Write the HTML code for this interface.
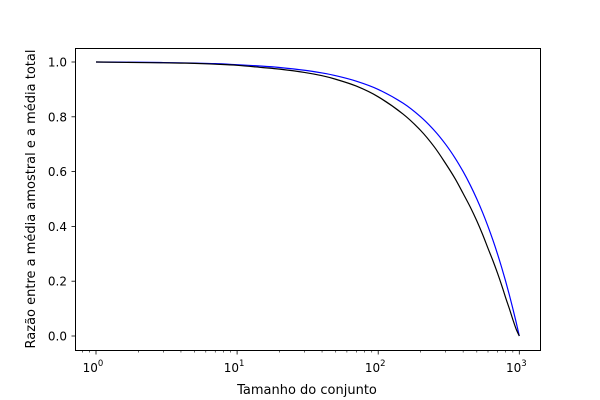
<!DOCTYPE html>
<html><head><meta charset="utf-8"><style>
html,body{margin:0;padding:0;background:#fff}
svg{display:block;font-family:"DejaVu Sans","Liberation Sans",sans-serif}
</style></head><body>
<svg id="chart" width="600" height="400" xmlns="http://www.w3.org/2000/svg">
<rect x="0" y="0" width="600" height="400" fill="#fff"/>
<g id="plot"></g>
<rect x="75.5" y="48.5" width="465" height="302" fill="none" stroke="#000" stroke-width="1"/>
<text x="307" y="394" font-size="13" text-anchor="middle">Tamanho do conjunto</text>
<text transform="translate(35,199) rotate(-90)" font-size="13" text-anchor="middle">Razão entre a média amostral e a média total</text>
</svg>
<script>
const sizes = [1,2,3,4,5,7,10,15,20,30,40,50,70,100,150,200,250,300,350,400,450,500,550,600,650,700,750,800,850,900,950,1000];
const blueValues = [1,0.999,0.998,0.997,0.996,0.994,0.99,0.985,0.98,0.97,0.96,0.95,0.93,0.90,0.85,0.80,0.75,0.70,0.65,0.60,0.55,0.50,0.45,0.40,0.35,0.30,0.25,0.20,0.15,0.10,0.05,0];
const blackValues = [1,0.998,0.997,0.996,0.995,0.992,0.988,0.98,0.974,0.962,0.95,0.937,0.912,0.873,0.81,0.75,0.69,0.63,0.575,0.52,0.47,0.42,0.37,0.32,0.275,0.23,0.185,0.14,0.10,0.06,0.025,0];
const yTicks = [0,0.2,0.4,0.6,0.8,1.0];
const xTickExps = [0,1,2,3];

const NS="http://www.w3.org/2000/svg";
const g=document.getElementById('plot');
function xs(v){return 96+Math.log10(v)*141.1;}
function ys(v){return 336-v*274;}
function mk(tag,attrs){const e=document.createElementNS(NS,tag);for(const k in attrs)e.setAttribute(k,attrs[k]);g.appendChild(e);return e;}

yTicks.forEach(t=>{
  const y=ys(t);
  const l=mk('line',{x1:71.5,x2:75.5,y1:y,y2:y,stroke:'#000','stroke-width':0.8});
  
  
  const tx=mk('text',{x:67,y:y+4.5,'font-size':12,'text-anchor':'end'});
  tx.textContent=t.toFixed(1);
  
  
});
xTickExps.forEach(e=>{
  const x=xs(Math.pow(10,e));
  const l=mk('line',{x1:x,x2:x,y1:350.5,y2:354.5,stroke:'#000','stroke-width':0.8});
  
  
  const tx=mk('text',{x:x-3,y:372,'font-size':12,'text-anchor':'middle'});
  tx.innerHTML='10<tspan dy="-6" font-size="8.5">'+e+'</tspan>';
  
  
});
for(let e=-1;e<4;e++){for(let m=2;m<10;m++){
  const v=m*Math.pow(10,e);const x=xs(v);
  if(x<75.5||x>540)continue;
  const l=mk('line',{x1:x,x2:x,y1:350.5,y2:352.5,stroke:'#000','stroke-width':0.6});
  
  
}}
function line(vals,color,name){
  const pts=sizes.map((s,i)=>[xs(s),ys(vals[i])]);
  let d='M'+pts[0][0].toFixed(2)+','+pts[0][1].toFixed(2);
  for(let i=0;i<pts.length-1;i++){
    const p0=pts[Math.max(0,i-1)],p1=pts[i],p2=pts[i+1],p3=pts[Math.min(pts.length-1,i+2)];
    const c1x=p1[0]+(p2[0]-p0[0])/6,c1y=p1[1]+(p2[1]-p0[1])/6;
    const c2x=p2[0]-(p3[0]-p1[0])/6,c2y=p2[1]-(p3[1]-p1[1])/6;
    d+=' C'+c1x.toFixed(2)+','+c1y.toFixed(2)+' '+c2x.toFixed(2)+','+c2y.toFixed(2)+' '+p2[0].toFixed(2)+','+p2[1].toFixed(2);
  }
  const p=mk('path',{d:d,fill:'none',stroke:color,'stroke-width':1.2,'stroke-linejoin':'round'});
  
  
}
line(blueValues,'#0000ff','blue-series-line');
line(blackValues,'#000000','black-series-line');
</script>
</body></html>
